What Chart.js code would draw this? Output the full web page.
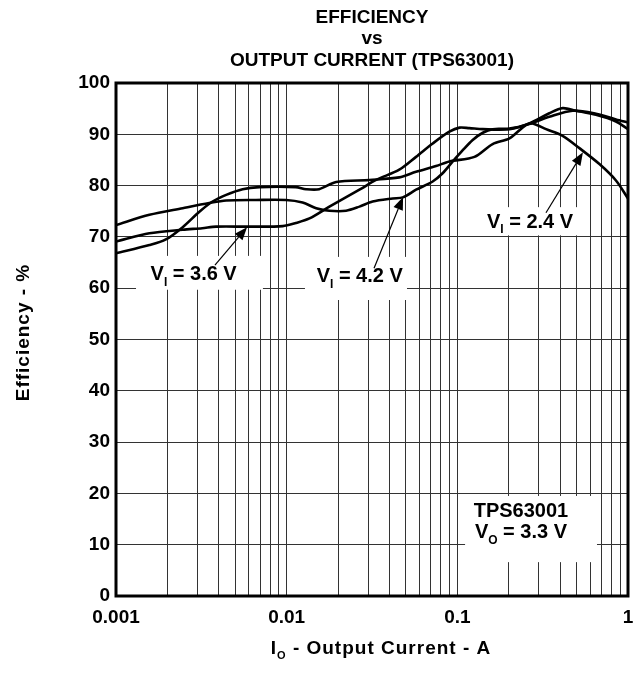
<!DOCTYPE html>
<html>
<head>
<meta charset="utf-8">
<script src="https://cdn.jsdelivr.net/npm/chart.js@4.4.1/dist/chart.umd.min.js"></script>
<style>
  html, body { margin: 0; padding: 0; background: #fff; }
  #wrap { width: 644px; height: 673px; }
</style>
</head>
<body>
<div id="wrap"><canvas id="effChart" width="644" height="673"></canvas></div>
<script>
// x axis: log ticks (grid lines) and the decade labels
const xTickValues = [0.001, 0.002, 0.003, 0.004, 0.005, 0.006, 0.007, 0.008, 0.009,
                     0.01, 0.02, 0.03, 0.04, 0.05, 0.06, 0.07, 0.08, 0.09,
                     0.1, 0.2, 0.3, 0.4, 0.5, 0.6, 0.7, 0.8, 0.9, 1];
const xTickLabels = ['0.001', '0.01', '0.1', '1'];

// VI = 3.6 V
const current36 = [0.001, 0.00157, 0.00246, 0.0032, 0.00386, 0.00604, 0.00948, 0.0113, 0.0136, 0.0178,
                   0.0267, 0.0334, 0.0457, 0.0573, 0.0717, 0.0898, 0.103, 0.1175, 0.141, 0.202,
                   0.264, 0.346, 0.414, 0.496, 0.649, 0.850, 1];
const eff36 = [69.1, 70.7, 71.4, 71.7, 72.0, 72.0, 72.1, 72.7, 73.6, 75.9,
               79.2, 81.1, 83.1, 85.6, 88.2, 90.5, 91.3, 91.2, 91.0, 91.0,
               92.1, 94.1, 95.1, 94.6, 93.8, 92.5, 91.0];

// VI = 4.2 V
const current42 = [0.001, 0.00157, 0.00246, 0.00352, 0.00442, 0.0066, 0.0099, 0.0124, 0.0149, 0.0178,
                   0.0223, 0.0267, 0.0319, 0.0418, 0.0479, 0.0573, 0.0717, 0.082, 0.094, 0.1076,
                   0.123, 0.141, 0.161, 0.202, 0.264, 0.346, 0.474, 0.649, 0.850, 1];
const eff42 = [72.3, 74.3, 75.6, 76.6, 77.1, 77.2, 77.2, 76.7, 75.6, 75.1,
               75.1, 75.9, 76.9, 77.5, 77.7, 79.2, 80.8, 82.4, 84.7, 86.9,
               88.9, 90.3, 91.0, 91.1, 92.0, 93.4, 94.6, 94.0, 92.9, 92.3];

// VI = 2.4 V
const current24 = [0.001, 0.00157, 0.00196, 0.00246, 0.00308, 0.00368, 0.00442, 0.00552, 0.00692, 0.0113,
                   0.013, 0.0155, 0.0195, 0.0305, 0.0457, 0.0573, 0.075, 0.0898, 0.126, 0.161,
                   0.202, 0.252, 0.276, 0.331, 0.414, 0.519, 0.680, 0.850, 1];
const eff24 = [66.8, 68.4, 69.5, 71.9, 74.9, 76.9, 78.2, 79.3, 79.7, 79.7,
               79.3, 79.3, 80.7, 81.1, 81.6, 82.7, 83.8, 84.7, 85.6, 88.1,
               89.2, 91.8, 92.1, 91.0, 89.7, 87.3, 84.2, 81.0, 77.5];

// callouts, in data units (current, efficiency)
const callouts = [
  { parts: [['V'], ['I', true], [' = 3.6 V']], at: [0.00285, 62.6], box: [0.00131, 0.00726, 59.7, 66.3],
    tail: [0.0038, 64.5], tip: [0.00586, 71.9] },
  { parts: [['V'], ['I', true], [' = 4.2 V']], at: [0.0268, 62.2], box: [0.0128, 0.0507, 57.7, 66.1],
    tail: [0.0325, 63.9], tip: [0.0481, 77.8] },
  { parts: [['V'], ['I', true], [' = 2.4 V']], at: [0.2667, 72.9], box: [0.1236, 0.598, 70.3, 75.8],
    tail: [0.3307, 74.7], tip: [0.5446, 86.5] },
  { parts: [['TPS63001']], at: [0.236, 16.4], box: [0.111, 0.658, 6.6, 19.5] },
  { parts: [['V'], ['O', true], [' = 3.3 V']], at: [0.236, 12.3] }
];

const FONT = '"Liberation Sans", Arial, sans-serif';

function toPts(xs, ys) {
  return xs.map((x, i) => ({ x: x, y: ys[i] }));
}

function drawParts(ctx, parts, cx, cy, size) {
  let w = 0;
  const widths = parts.map(p => {
    ctx.font = 'bold ' + (p[1] ? Math.round(size * 0.6) : size) + 'px ' + FONT;
    const m = ctx.measureText(p[0]).width;
    w += m;
    return m;
  });
  let x = cx - w / 2;
  ctx.textAlign = 'left';
  ctx.textBaseline = 'middle';
  parts.forEach((p, i) => {
    ctx.font = 'bold ' + (p[1] ? Math.round(size * 0.6) : size) + 'px ' + FONT;
    ctx.fillText(p[0], x, p[1] ? cy + size * 0.38 : cy);
    x += widths[i];
  });
}

const decorPlugin = {
  id: 'decor',
  beforeDatasetsDraw(chart) {
    const { ctx, scales: { x, y } } = chart;
    ctx.save();
    ctx.fillStyle = '#fff';
    callouts.forEach(c => {
      if (!c.box) return;
      const x1 = x.getPixelForValue(c.box[0]), x2 = x.getPixelForValue(c.box[1]);
      const y1 = y.getPixelForValue(c.box[3]), y2 = y.getPixelForValue(c.box[2]);
      ctx.fillRect(x1, y1, x2 - x1, y2 - y1);
    });
    ctx.restore();
  },
  afterDatasetsDraw(chart) {
    const { ctx, chartArea: a, scales: { x, y } } = chart;
    ctx.save();
    ctx.fillStyle = '#000';
    ctx.strokeStyle = '#000';

    // callout text + arrows
    callouts.forEach(c => {
      drawParts(ctx, c.parts, x.getPixelForValue(c.at[0]), y.getPixelForValue(c.at[1]), 20);
      if (!c.tip) return;
      const x0 = x.getPixelForValue(c.tail[0]), y0 = y.getPixelForValue(c.tail[1]);
      const x1 = x.getPixelForValue(c.tip[0]), y1 = y.getPixelForValue(c.tip[1]);
      const ang = Math.atan2(y1 - y0, x1 - x0);
      const hl = 13, hw = 5;
      const bx = x1 - hl * Math.cos(ang), by = y1 - hl * Math.sin(ang);
      ctx.lineWidth = 1.2;
      ctx.beginPath();
      ctx.moveTo(x0, y0);
      ctx.lineTo(bx, by);
      ctx.stroke();
      ctx.beginPath();
      ctx.moveTo(x1, y1);
      ctx.lineTo(bx + hw * Math.sin(ang), by - hw * Math.cos(ang));
      ctx.lineTo(bx - hw * Math.sin(ang), by + hw * Math.cos(ang));
      ctx.closePath();
      ctx.fill();
    });

    // frame
    ctx.lineWidth = 3;
    ctx.strokeRect(a.left, a.top, a.right - a.left, a.bottom - a.top);

    // title
    const cx = (a.left + a.right) / 2;
    ctx.font = 'bold 19px ' + FONT;
    ctx.textAlign = 'center';
    ctx.textBaseline = 'middle';
    ctx.fillText('EFFICIENCY', cx, 18);
    ctx.fillText('vs', cx, 39);
    ctx.fillText('OUTPUT CURRENT (TPS63001)', cx, 61);

    // x axis title
    ctx.letterSpacing = '1px';
    drawParts(ctx, [['I'], ['O', true], [' - Output Current - A']], cx + 9, 649, 19);

    // y axis title
    ctx.translate(24, (a.top + a.bottom) / 2 - 7);
    ctx.rotate(-Math.PI / 2);
    ctx.font = 'bold 19px ' + FONT;
    ctx.textAlign = 'center';
    ctx.textBaseline = 'middle';
    ctx.fillText('Efficiency - %', 0, 0);
    ctx.restore();
  }
};

const lineStyle = {
  borderColor: '#000',
  borderWidth: 2.6,
  pointRadius: 0,
  tension: 0.3,
  fill: false
};

new Chart(document.getElementById('effChart'), {
  type: 'line',
  data: {
    datasets: [
      Object.assign({ label: 'VI = 3.6 V', data: toPts(current36, eff36) }, lineStyle),
      Object.assign({ label: 'VI = 4.2 V', data: toPts(current42, eff42) }, lineStyle),
      Object.assign({ label: 'VI = 2.4 V', data: toPts(current24, eff24) }, lineStyle)
    ]
  },
  options: {
    responsive: false,
    animation: false,
    devicePixelRatio: 1,
    layout: { padding: { left: 0, right: 16, top: 83, bottom: 32 } },
    plugins: {
      legend: { display: false },
      title: { display: false },
      tooltip: { enabled: false }
    },
    scales: {
      x: {
        type: 'logarithmic',
        min: 0.001,
        max: 1,
        afterBuildTicks: s => { s.ticks = xTickValues.map(v => ({ value: v })); },
        afterFit: s => { s.height = 45; },
        grid: { color: '#333', lineWidth: 1, drawTicks: false },
        border: { display: false },
        ticks: {
          autoSkip: false,
          maxRotation: 0,
          padding: 10,
          color: '#000',
          font: { family: FONT, size: 19, weight: 'bold' },
          callback: v => {
            const lab = xTickLabels.find(t => Math.abs(parseFloat(t) - v) < v * 1e-6);
            return lab || '';
          }
        }
      },
      y: {
        min: 0,
        max: 100,
        afterFit: s => { s.width = 116; },
        grid: { color: '#333', lineWidth: 1, drawTicks: false },
        border: { display: false },
        ticks: {
          stepSize: 10,
          padding: 6,
          color: '#000',
          font: { family: FONT, size: 19, weight: 'bold' }
        }
      }
    }
  },
  plugins: [decorPlugin]
});
</script>
</body>
</html>
